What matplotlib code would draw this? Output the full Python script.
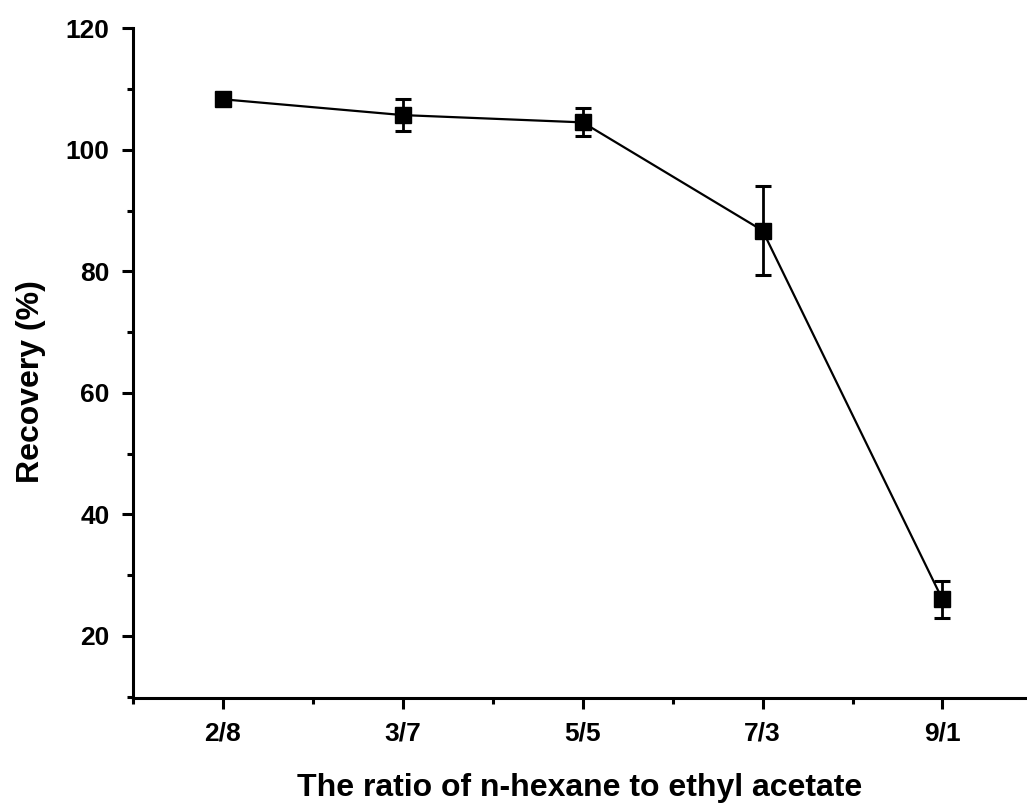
import matplotlib
matplotlib.use("Agg")
import matplotlib.pyplot as plt
from matplotlib.ticker import MultipleLocator

# data
ratios = ["2/8", "3/7", "5/5", "7/3", "9/1"]
recovery = [108.3, 105.7, 104.5, 86.7, 26.0]
recovery_err = [0.8, 2.6, 2.3, 7.3, 3.1]

plt.rcParams["font.family"] = ["Liberation Sans", "DejaVu Sans"]
plt.rcParams["font.weight"] = "bold"

fig = plt.figure(figsize=(10.27, 8.05), dpi=100)
ax = fig.add_axes([0.1295, 0.133, 0.8705, 0.832])

x = list(range(1, len(ratios) + 1))
ax.errorbar(x, recovery, yerr=recovery_err, color="black", lw=1.6,
            marker="s", markersize=11.5, capsize=5.5, capthick=2.2, elinewidth=2)

ax.set_xlim(0.5, 5.47)
ax.set_ylim(9.8, 120)
ax.set_xticks(x)
ax.set_xticklabels(ratios)
ax.xaxis.set_minor_locator(MultipleLocator(0.5))
ax.yaxis.set_minor_locator(MultipleLocator(10))
ax.set_yticks([20, 40, 60, 80, 100, 120])

for side in ("top", "right"):
    ax.spines[side].set_visible(False)
for side in ("left", "bottom"):
    ax.spines[side].set_linewidth(2.2)

ax.tick_params(which="major", direction="out", length=8, width=2.2,
               labelsize=19, pad=9)
ax.tick_params(which="minor", direction="out", length=4, width=2.2)

ax.set_xlabel("The ratio of n-hexane to ethyl acetate", fontsize=23,
              fontweight="bold", labelpad=20)
ax.set_ylabel("Recovery (%)", fontsize=23, fontweight="bold", labelpad=14)
ax.yaxis.label.set_y(0.473)

fig.savefig("out.png", dpi=100)
